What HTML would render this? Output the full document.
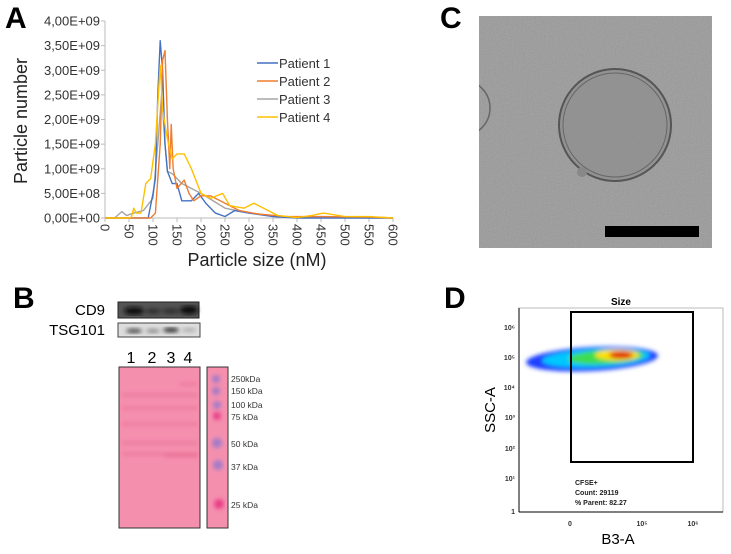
<!DOCTYPE html>
<html><head><meta charset="utf-8"><style>
body{margin:0;width:731px;height:554px;background:#fff;overflow:hidden;font-family:"Liberation Sans",Arial,sans-serif;position:relative}
.abs{position:absolute}
</style></head><body>
<svg class="abs" style="left:0;top:0" width="731" height="554">
<defs>
<clipPath id="clipC"><rect x="479" y="16" width="233" height="232"/></clipPath>
<filter id="noise" x="0" y="0" width="1" height="1"><feTurbulence type="fractalNoise" baseFrequency="0.9" numOctaves="2" seed="3"/><feColorMatrix type="saturate" values="0"/><feComponentTransfer><feFuncA type="table" tableValues="0 0.3"/></feComponentTransfer><feComposite in2="SourceGraphic" operator="in"/></filter>
<filter id="blur2"><feGaussianBlur stdDeviation="2"/></filter>
</defs>
<text x="5" y="28" font-size="30" font-weight="bold">A</text>
<text x="13" y="308" font-size="30" font-weight="bold">B</text>
<text x="440" y="28" font-size="30" font-weight="bold">C</text>
<text x="444" y="308" font-size="30" font-weight="bold">D</text>

<g id="chartA"></g>
<text x="27" y="121" font-size="18" transform="rotate(-90 27 121)" text-anchor="middle" fill="#222">Particle number</text>
<text x="257" y="266" font-size="18" text-anchor="middle" fill="#222">Particle size (nM)</text>

<text x="105" y="315" font-size="15" text-anchor="end">CD9</text>
<text x="105" y="335" font-size="15" text-anchor="end">TSG101</text>
<rect x="118" y="302" width="81" height="16" fill="#555" stroke="#222"/>
<g filter="url(#blur2)"><ellipse cx="134" cy="311" rx="10" ry="4" fill="#111"/><ellipse cx="153" cy="311" rx="8" ry="3" fill="#333"/><ellipse cx="171" cy="311" rx="9" ry="3" fill="#333"/><ellipse cx="189" cy="310" rx="9" ry="4.5" fill="#111"/></g>
<rect x="118" y="323" width="82" height="14" fill="#ddd" stroke="#444"/>
<g filter="url(#blur2)"><ellipse cx="134" cy="331" rx="8" ry="2.5" fill="#555"/><ellipse cx="153" cy="331" rx="7" ry="2" fill="#888"/><ellipse cx="171" cy="330" rx="8" ry="2.5" fill="#333"/><ellipse cx="189" cy="330" rx="7" ry="2" fill="#aaa"/></g>
<g font-size="16" text-anchor="middle"><text x="131" y="363">1</text><text x="152" y="363">2</text><text x="171" y="363">3</text><text x="188" y="363">4</text></g>
<rect x="119" y="367" width="81" height="161" fill="#f58fae" stroke="#333"/>
<g stroke="#e05a85" stroke-width="1.5" opacity="0.8" filter="url(#blur2)"><line x1="122" y1="424" x2="198" y2="424"/><line x1="122" y1="454" x2="198" y2="454"/><line x1="122" y1="443" x2="198" y2="443"/><line x1="122" y1="395" x2="198" y2="395"/><line x1="122" y1="408" x2="198" y2="408"/><line x1="180" y1="384" x2="197" y2="384"/><line x1="165" y1="456" x2="198" y2="456"/></g>
<rect x="207" y="367" width="21" height="161" fill="#f58fae" stroke="#333"/>
<g fill="#a07ac8" filter="url(#blur2)"><circle cx="216" cy="379" r="4"/><circle cx="216" cy="391" r="4"/><circle cx="217" cy="405" r="4"/><circle cx="217" cy="443" r="5"/><circle cx="218" cy="465" r="5"/></g>
<g fill="#e83d86" filter="url(#blur2)"><circle cx="217" cy="416" r="4"/><circle cx="219" cy="504" r="5"/></g>
<g font-size="8.5" fill="#333"><text x="231" y="382">250kDa</text><text x="231" y="394">150 kDa</text><text x="231" y="408">100 kDa</text><text x="231" y="420">75 kDa</text><text x="231" y="447">50 kDa</text><text x="231" y="470">37 kDa</text><text x="231" y="508">25 kDa</text></g>

<g clip-path="url(#clipC)">
<rect x="479" y="16" width="233" height="232" fill="#999"/>
<rect x="479" y="16" width="233" height="232" fill="#000" filter="url(#noise)"/>
<circle cx="615" cy="125" r="56" fill="#8a8a8a" fill-opacity="0.6" stroke="#555" stroke-width="2"/>
<circle cx="615" cy="125" r="52" fill="none" stroke="#666" stroke-width="1"/>
<circle cx="462" cy="108" r="28" fill="none" stroke="#666" stroke-width="1.5"/>
<circle cx="582" cy="172" r="5" fill="#888"/>
</g>
<rect x="605" y="226" width="94" height="11" fill="#000"/>

<text x="621" y="305" font-size="10" font-weight="bold" text-anchor="middle">Size</text>
<rect x="519" y="308" width="204" height="204" fill="#fff" stroke="#bbb"/>
<line x1="519" y1="308" x2="519" y2="512" stroke="#000"/><line x1="519" y1="512" x2="723" y2="512" stroke="#000"/>
<g filter="url(#blur2)">
<ellipse cx="592" cy="359" rx="66" ry="12" fill="#1f3fff" transform="rotate(-3 592 359)"/>
<ellipse cx="596" cy="358" rx="54" ry="9" fill="#00c8ff" transform="rotate(-3 596 358)"/>
<ellipse cx="606" cy="357" rx="38" ry="7" fill="#3cdc50" transform="rotate(-3 606 357)"/>
<ellipse cx="617" cy="355" rx="22" ry="5.5" fill="#ffe000"/>
<ellipse cx="621" cy="355" rx="12" ry="3.5" fill="#e01010"/>
</g>
<rect x="571" y="312" width="122" height="150" fill="none" stroke="#000" stroke-width="2"/>
<g font-size="7" font-weight="bold" fill="#333" text-anchor="end"><text x="515" y="330">10⁶</text><text x="515" y="360">10⁵</text><text x="515" y="390">10⁴</text><text x="515" y="420">10³</text><text x="515" y="451">10²</text><text x="515" y="481">10¹</text><text x="515" y="514">1</text></g>
<g font-size="7" font-weight="bold" fill="#333" text-anchor="middle"><text x="570" y="526">0</text><text x="642" y="526">10⁵</text><text x="693" y="526">10⁶</text></g>
<g font-size="7" font-weight="bold" fill="#222"><text x="575" y="485">CFSE+</text><text x="575" y="495">Count: 29119</text><text x="575" y="505">% Parent: 82.27</text></g>
<text x="495" y="410" font-size="15" transform="rotate(-90 495 410)" text-anchor="middle">SSC-A</text>
<text x="618" y="544" font-size="15" text-anchor="middle">B3-A</text>
</svg>
<script>
const sizes1=[0,90,100,105,110,115,120,125,130,140,150,160,180,195,210,230,250,270,300,350,400,600];
const patient1=[0,0,0.5,0.8,2.5,3.6,3.0,1.5,0.95,0.7,0.7,0.35,0.35,0.5,0.3,0.1,0.03,0.15,0.1,0.03,0,0];
const sizes2=[0,95,105,115,120,125,130,135,138,142,150,165,175,185,200,220,250,280,320,380,450,550,600];
const patient2=[0,0,0.1,1.5,3.2,3.4,2.0,1.0,1.9,1.0,0.6,0.77,0.5,0.35,0.45,0.45,0.3,0.15,0.08,0.03,0.03,0.02,0];
const sizes3=[0,20,35,45,60,80,100,110,118,125,130,140,160,200,250,300,350,400,600];
const patient3=[0,0,0.13,0.05,0.1,0.15,0.4,1.5,2.5,1.5,0.95,0.9,0.7,0.5,0.2,0.1,0.05,0.01,0];
const sizes4=[0,50,55,60,65,75,85,95,105,115,120,130,140,150,165,180,200,220,245,260,290,310,330,360,400,430,455,500,550,600];
const patient4=[0,0,0.02,0.2,0.1,0.1,0.7,0.8,1.5,3.1,2.2,1.6,1.2,1.3,1.3,1.0,0.5,0.4,0.5,0.25,0.2,0.3,0.2,0.05,0.01,0.05,0.1,0.03,0.03,0];
const xTicks=[0,50,100,150,200,250,300,350,400,450,500,550,600];
const yTicks=["0,00E+00","5,00E+08","1,00E+09","1,50E+09","2,00E+09","2,50E+09","3,00E+09","3,50E+09","4,00E+09"];
const seriesNames=["Patient 1","Patient 2","Patient 3","Patient 4"];
const colors=["#4472c4","#ed7d31","#a5a5a5","#ffc000"];
const NS="http://www.w3.org/2000/svg";
const X0=105,X1=393,Y0=218,Y1=21;
const xs=v=>X0+(v/600)*(X1-X0);
const ys=v=>Y0-(v/4)*(Y0-Y1);
const g=document.getElementById('chartA');
function mk(t,a){const e=document.createElementNS(NS,t);for(const k in a)e.setAttribute(k,a[k]);g.appendChild(e);return e;}
const ax=mk('line',{x1:X0,y1:Y1,x2:X0,y2:Y0,stroke:'#bbb'});


const bx=mk('line',{x1:X0,y1:Y0,x2:X1,y2:Y0,stroke:'#bbb'});


yTicks.forEach((t,i)=>{const y=ys(i*0.5);
mk('line',{x1:X0-4,y1:y,x2:X0,y2:y,stroke:'#bbb'});
const tx=mk('text',{x:X0-5,y:y+4.5,'font-size':13,'text-anchor':'end',fill:'#333'});tx.textContent=t;

});
xTicks.forEach(v=>{const x=xs(v);
mk('line',{x1:x,y1:Y0,x2:x,y2:Y0+4,stroke:'#bbb'});
const tx=mk('text',{x:x-4.5,y:Y0+6,'font-size':13,'text-anchor':'start',fill:'#333',transform:`rotate(90 ${x-4.5} ${Y0+6})`});tx.textContent=v;

});
const all=[[sizes1,patient1],[sizes2,patient2],[sizes3,patient3],[sizes4,patient4]];
[2,0,1,3].forEach(i=>{const [sx,sv]=all[i];
const p=mk('polyline',{points:sx.map((v,j)=>xs(v)+','+ys(sv[j])).join(' '),fill:'none',stroke:colors[i],'stroke-width':1.4,'stroke-linejoin':'round'});

});
seriesNames.forEach((n,i)=>{const y=63+i*18;
const l=mk('line',{x1:257,y1:y,x2:278,y2:y,stroke:colors[i],'stroke-width':1.5});


const t=mk('text',{x:279,y:y+5,'font-size':13,fill:'#333'});t.textContent=n;

});
</script>
</body></html>
